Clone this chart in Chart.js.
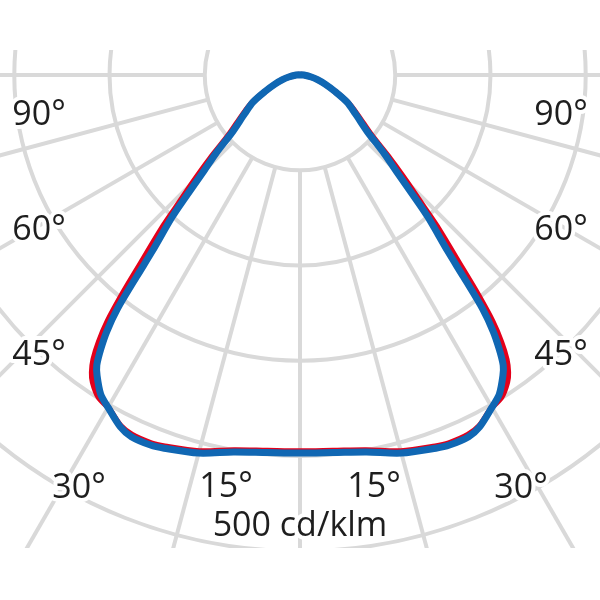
<!DOCTYPE html>
<html>
<head>
<meta charset="utf-8">
<script src="https://cdn.jsdelivr.net/npm/chart.js@4.4.1/dist/chart.umd.min.js"></script>
<style>
  html, body { margin: 0; padding: 0; background: #fff; }
  #wrap { width: 600px; height: 600px; }
</style>
</head>
<body>
<div id="wrap"><canvas id="ldc" width="600" height="600"></canvas></div>
<script>
// Light distribution curve, cd/klm, gamma angle from nadir (one half, mirrored)
const gammaAngles = [0, 5, 10, 15, 20, 22, 25, 27, 30, 32, 34, 35, 36, 37, 38, 39, 40, 42, 43, 45, 47, 50, 55, 60, 65, 70, 75, 80, 90, 110, 180];
const planeC90 = [397, 398, 402, 411, 417, 419, 419, 415, 403, 395, 381, 372, 356, 337, 311, 273, 241, 201, 179, 143, 121, 92, 71, 57, 40, 28, 19, 12, 4, 1, 0];
const planeC0 = [395, 396, 400, 409, 415, 417, 417, 414, 403, 399, 389, 381, 369, 351, 328, 297, 265, 217, 193, 158, 130, 97, 74, 58, 40, 28, 19, 12, 4, 1, 0];

// grid
const ringValues = [100, 200, 300, 400, 500, 600];
const spokeAngles = [-90, -75, -60, -45, -30, -15, 0, 15, 30, 45, 60, 75, 90];
const angleTickLabels = ['90°', '60°', '45°', '30°', '15°'];
const unitLabel = '500 cd/klm';

// polar (gamma, value) -> x/y, left half then right half
function toCurve(values) {
  const pts = [];
  for (let i = gammaAngles.length - 1; i >= 0; i--) {
    const t = gammaAngles[i] * Math.PI / 180;
    pts.push({ x: -values[i] * Math.sin(t), y: -values[i] * Math.cos(t) });
  }
  for (let i = 1; i < gammaAngles.length; i++) {
    const t = gammaAngles[i] * Math.PI / 180;
    pts.push({ x: values[i] * Math.sin(t), y: -values[i] * Math.cos(t) });
  }
  return pts;
}

const polarGrid = {
  id: 'polarGrid',
  beforeDatasetsDraw(chart) {
    const { ctx, scales: { x, y } } = chart;
    const cx = x.getPixelForValue(0);
    const cy = y.getPixelForValue(0);
    const rad = v => x.getPixelForValue(v) - cx;
    ctx.save();
    ctx.beginPath();
    ctx.rect(0, 50, chart.width, 498);
    ctx.clip();
    ctx.strokeStyle = '#d9d9d9';
    ctx.lineWidth = 4;
    ringValues.forEach(v => {
      ctx.beginPath();
      ctx.arc(cx, cy, rad(v), 0, Math.PI * 2);
      ctx.stroke();
    });
    const r0 = rad(ringValues[0]);
    const r1 = rad(800);
    spokeAngles.forEach(a => {
      const t = a * Math.PI / 180;
      ctx.beginPath();
      ctx.moveTo(cx + r0 * Math.sin(t), cy + r0 * Math.cos(t));
      ctx.lineTo(cx + r1 * Math.sin(t), cy + r1 * Math.cos(t));
      ctx.stroke();
    });
    ctx.restore();
  }
};

// label spots (px): left side, mirrored to the right
const labelSpots = [[39, 125], [39, 240], [39, 365], [79, 498], [226, 497]];

const polarLabels = {
  id: 'polarLabels',
  afterDraw(chart) {
    const { ctx } = chart;
    ctx.save();
    ctx.font = '34px "Open Sans"';
    ctx.textAlign = 'center';
    ctx.textBaseline = 'alphabetic';
    ctx.lineJoin = 'round';
    const put = (txt, px, py) => {
      ctx.strokeStyle = '#fff';
      ctx.lineWidth = 8;
      ctx.strokeText(txt, px, py);
      ctx.fillStyle = '#1e1e1e';
      ctx.fillText(txt, px, py);
    };
    angleTickLabels.forEach((txt, i) => {
      const [px, py] = labelSpots[i];
      put(txt, px, py);
      put(txt, chart.width - px, py);
    });
    put(unitLabel, 300, 536);
    ctx.restore();
  }
};

new Chart(document.getElementById('ldc'), {
  type: 'scatter',
  data: {
    datasets: [{
      label: 'C90-C270',
      data: toCurve(planeC90),
      showLine: true,
      borderColor: '#1067b3',
      borderWidth: 7,
      pointRadius: 0,
      tension: 0.3,
      borderJoinStyle: 'round',
      borderCapStyle: 'round',
      order: 1
    }, {
      label: 'C0-C180',
      data: toCurve(planeC0),
      showLine: true,
      borderColor: '#e3001b',
      borderWidth: 6,
      pointRadius: 0,
      tension: 0.3,
      borderJoinStyle: 'round',
      borderCapStyle: 'round',
      order: 2
    }]
  },
  options: {
    responsive: false,
    animation: false,
    layout: { padding: 0 },
    plugins: {
      legend: { display: false },
      tooltip: { enabled: false }
    },
    scales: {
      x: { type: 'linear', min: -315, max: 315, display: false },
      y: { type: 'linear', min: -551.25, max: 78.75, display: false }
    }
  },
  plugins: [polarGrid, polarLabels]
});
</script>
</body>
</html>
